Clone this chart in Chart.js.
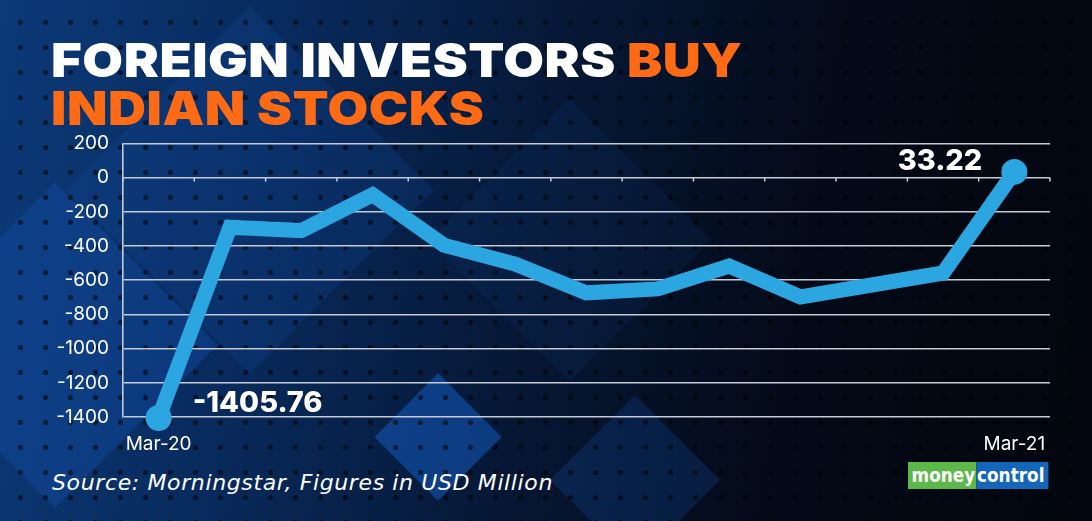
<!DOCTYPE html>
<html><head><meta charset="utf-8">
<script src="https://cdn.jsdelivr.net/npm/chart.js@4/dist/chart.umd.min.js"></script>
<style>
html,body{margin:0;padding:0;}
body{width:1092px;height:521px;overflow:hidden;position:relative;font-family:Inter,"Open Sans",sans-serif;
background:linear-gradient(100deg,#0b3a78 0%,#082a5c 25%,#061734 50%,#040a18 72%,#03060e 100%);}
.dots{position:absolute;inset:0;background-image:radial-gradient(circle,rgba(0,0,0,0.55) 2.2px,transparent 3px);background-size:25px 25px;background-position:8px 10px;}
.dia{position:absolute;transform:rotate(45deg);}
#title{position:absolute;left:51px;top:36px;font-family:Inter,sans-serif;font-weight:900;font-size:47px;line-height:48px;color:#fff;letter-spacing:0.5px;transform:scaleX(1.12);transform-origin:0 0;white-space:nowrap;}
#title span{color:#ff6a14;}
#src{position:absolute;left:52px;top:471px;font-family:"DejaVu Sans",sans-serif;font-style:italic;font-size:21px;letter-spacing:0.6px;color:#fff;white-space:nowrap;transform-origin:0 0;}
#logo{position:absolute;left:908px;top:462px;height:27px;display:flex;font-family:"DejaVu Sans",sans-serif;font-weight:bold;font-size:19px;line-height:27px;transform-origin:0 0;}
#logo .m{background:#5cb84a;color:#fff;padding:0 1px 0 4px;}
#logo .c{background:#1565b8;color:#fff;padding:0 4px 0 1px;}
#wrap{position:absolute;left:0;top:118px;width:1092px;height:342px;}
</style></head>
<body>
<div class="dia" style="left:-60px;top:230px;width:230px;height:230px;background:rgba(20,80,170,0.38)"></div>
<div class="dia" style="left:120px;top:60px;width:260px;height:260px;background:rgba(20,80,170,0.2)"></div>
<div class="dia" style="left:393px;top:392px;width:90px;height:90px;background:rgba(20,90,190,0.55)"></div>
<div class="dia" style="left:575px;top:420px;width:120px;height:120px;background:rgba(20,80,170,0.25)"></div>
<div class="dia" style="left:470px;top:140px;width:200px;height:200px;background:rgba(20,70,150,0.12)"></div>
<div class="dots"></div>
<div id="title">FOREIGN INVESTORS <span>BUY</span><br><span>INDIAN STOCKS</span></div>
<div id="wrap"><canvas id="c"></canvas></div>
<div id="src">Source: Morningstar, Figures in USD Million</div>
<div id="logo"><span class="m">money</span><span class="c">control</span></div>
<script>
const categories = ['Mar-20','Apr-20','May-20','Jun-20','Jul-20','Aug-20','Sep-20','Oct-20','Nov-20','Dec-20','Jan-21','Feb-21','Mar-21'];
const tickLabels = ['Mar-20','','','','','','','','','','','','Mar-21'];
const values = [-1405.76, -290, -310, -100, -395, -506, -674, -651, -517, -698, -628, -558, 33.22];
const dataLabels = ['-1405.76','','','','','','','','','','','','33.22'];
const yTicks = [200,0,-200,-400,-600,-800,-1000,-1200,-1400];

function fitWidth(id,w){const el=document.getElementById(id);const r=el.getBoundingClientRect().width;el.style.transform='scaleX('+(w/r)+')';}
fitWidth('src',501);
fitWidth('logo',140);

const zeroTicks = {
  id:'zeroTicks',
  beforeDatasetsDraw(chart){
    const x = chart.scales.x, y = chart.scales.y, ctx = chart.ctx;
    const y0 = y.getPixelForValue(0);
    ctx.save();ctx.strokeStyle='#c9ced8';ctx.lineWidth=1.5;
    for(let i=0;i<=categories.length;i++){
      const px = x.getPixelForValue(i-0.5);
      ctx.beginPath();ctx.moveTo(px,y0);ctx.lineTo(px,y0+4);ctx.stroke();
    }
    ctx.restore();
  }
};
const labelsPlugin = {
  id:'labelsPlugin',
  afterDatasetsDraw(chart){
    const meta = chart.getDatasetMeta(0), ctx = chart.ctx;
    ctx.save();
    ctx.fillStyle='#fff';ctx.font='800 29px Inter, sans-serif';ctx.textBaseline='middle';
    dataLabels.forEach((t,i)=>{
      if(!t) return;
      const p = meta.data[i];
      if(i===0){ctx.textAlign='left';ctx.fillText(t,p.x+34,p.y-15);}
      else {ctx.textAlign='right';ctx.fillText(t,p.x-32,p.y-11);}
    });
    ctx.restore();
  }
};

new Chart(document.getElementById('c'),{
  type:'line',
  data:{labels:categories,datasets:[{
    data:values,borderColor:'#2ba6e1',backgroundColor:'#2ba6e1',borderWidth:15,
    borderJoinStyle:'miter',borderCapStyle:'butt',tension:0,
    pointRadius:values.map((v,i)=>(i===0||i===values.length-1)?13:0),
    pointBackgroundColor:'#2ba6e1',pointBorderWidth:0,pointHoverRadius:13,clip:false
  }]},
  options:{
    responsive:true,maintainAspectRatio:false,animation:false,
    layout:{padding:{top:2,right:42,left:0,bottom:0}},
    plugins:{legend:{display:false},tooltip:{enabled:false}},
    scales:{
      x:{offset:true,
        grid:{display:false},
        border:{display:false},
        ticks:{color:'#fff',font:{family:'Inter, sans-serif',size:19},
          maxRotation:0,autoSkip:false,padding:8,callback:(v,i)=>tickLabels[i]},
        afterFit(s){s.height=43;}
      },
      y:{min:-1400,max:200,
        afterBuildTicks(s){s.ticks=yTicks.map(v=>({value:v}));},
        grid:{color:'#c5cad4',lineWidth:1.6,drawTicks:false},
        border:{display:true,color:'#c5cad4',width:1.6},
        ticks:{color:'#fff',font:{family:'Inter, sans-serif',size:19},padding:14,callback:v=>String(v)},
        afterFit(s){s.width=123;}
      }
    }
  },
  plugins:[zeroTicks,labelsPlugin]
});
</script>
</body></html>
